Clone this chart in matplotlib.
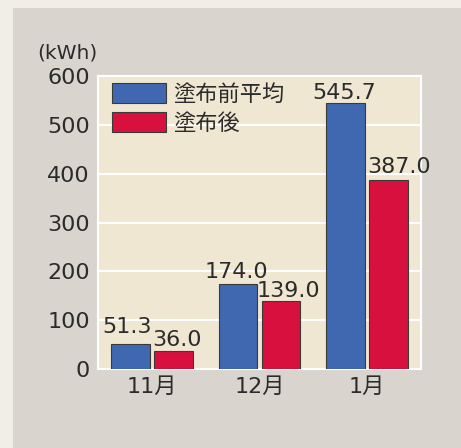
import matplotlib
matplotlib.use("Agg")
import matplotlib.pyplot as plt
from matplotlib.patches import Rectangle
import numpy as np

plt.rcParams['font.family'] = ['DejaVu Sans', 'Noto Sans CJK JP']

# data
months = ["11月", "12月", "1月"]
before_avg = [51.3, 174.0, 545.7]
after = [36.0, 139.0, 387.0]
series_names = ["塗布前平均", "塗布後"]
yticks = [0, 100, 200, 300, 400, 500, 600]

# value label nudges in pixels (dx, gap above bar top)
nudge_before = [(-3.5, 11), (-2, 6.5), (-1, 4)]
nudge_after = [(3.5, 5), (7.5, 4.5), (10, 7)]

blue = "#3f68b1"
red = "#d8103e"
txt = "#2b2b2b"
PX = 0.72  # points per pixel at dpi 100

fig = plt.figure(figsize=(4.61, 4.48), dpi=100, facecolor="#f1eee7")
# gray panel behind the chart
fig.patches.append(Rectangle((13/461, 0), 1, (448-8)/448, transform=fig.transFigure,
                             facecolor="#d9d5ce", edgecolor="none", zorder=-10))

ax = fig.add_axes([98/461, 1-369/448, 323/461, 293/448])
ax.set_facecolor("#efe7d1")

x = np.arange(len(months))
w = 0.36
off = 0.2
b1 = ax.bar(x - off, before_avg, w, color=blue, edgecolor="#3a3a3a", linewidth=0.8,
            label=series_names[0], zorder=3)
b2 = ax.bar(x + off, after, w, color=red, edgecolor="#3a3a3a", linewidth=0.8,
            label=series_names[1], zorder=3)

for bars, vals, nudges in ((b1, before_avg, nudge_before), (b2, after, nudge_after)):
    for r, v, (dx, dy) in zip(bars, vals, nudges):
        ax.annotate("%.1f" % v, (r.get_x() + r.get_width()/2, v),
                    xytext=(dx*PX, dy*PX), textcoords="offset points",
                    ha="center", va="baseline", fontsize=16, color=txt, zorder=4)

ax.set_xlim(-0.5, 2.5)
ax.set_ylim(0, 600)
ax.set_yticks(yticks)
ax.set_xticks(x)
ax.set_xticklabels(months)
ax.tick_params(length=0, labelsize=16, colors=txt)
ax.tick_params(axis="y", pad=5.8)
ax.tick_params(axis="x", pad=6)
ax.yaxis.grid(True, color="white", linewidth=1.5, zorder=1)
ax.set_axisbelow(True)
for s in ax.spines.values():
    s.set_color("white")
    s.set_linewidth(1.5)

ax.text(-1/323, 1.0 + 23/293, "(kWh)", transform=ax.transAxes, ha="right", va="center",
        fontsize=14.5, color=txt)

leg = ax.legend(loc="upper left", bbox_to_anchor=(14/323, 1 - 7/293), frameon=False,
                fontsize=16, handlelength=2.43, handleheight=1.0, handletextpad=0.3,
                labelspacing=0.35, borderaxespad=0, borderpad=0)
for t in leg.get_texts():
    t.set_color(txt)

fig.savefig("out.png", dpi=100, facecolor=fig.get_facecolor())
